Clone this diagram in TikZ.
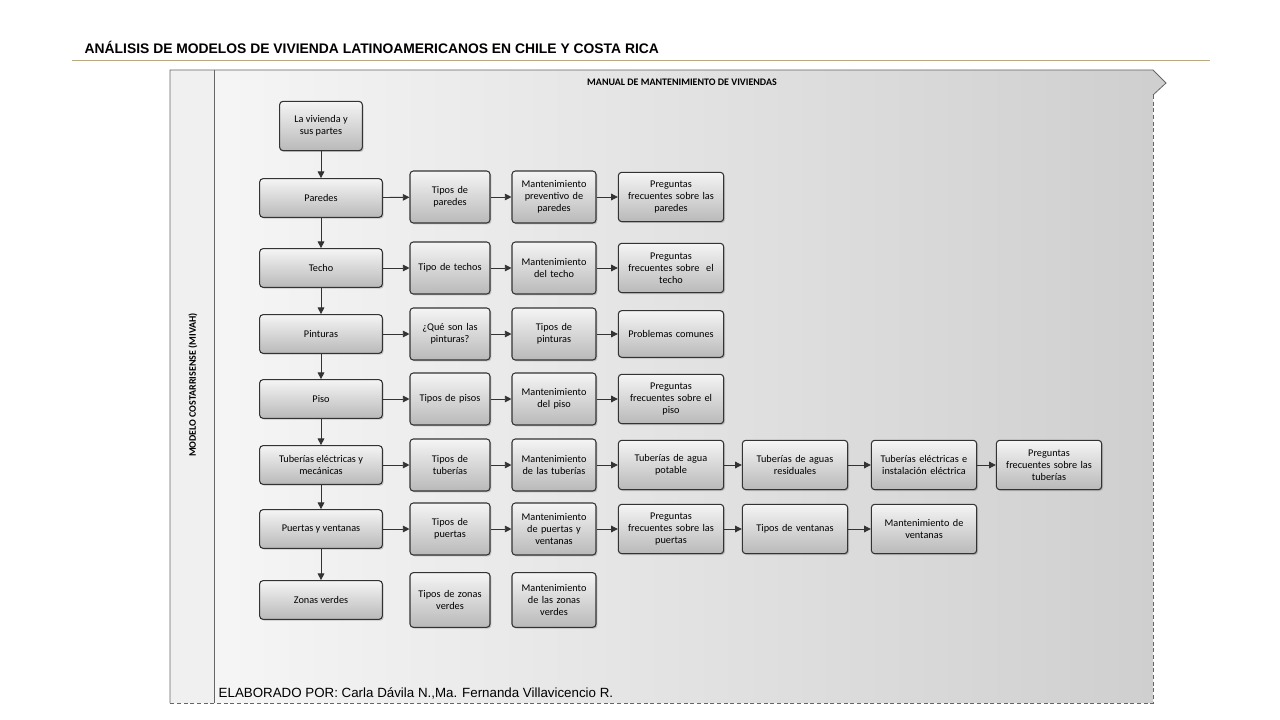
\documentclass[tikz,border=0pt]{standalone}
\usepackage{fontspec}
\setmainfont{Carlito}
\newfontfamily\arial{Liberation Sans}
\usetikzlibrary{shadows,arrows.meta}
\begin{document}
\begin{tikzpicture}[x=0.75pt,y=-0.75pt,
 bx/.style={draw=black!80,line width=0.8pt,rounded corners=2.5pt,top color=gray!8,bottom color=gray!55,
   drop shadow={shadow xshift=1pt,shadow yshift=-1pt,opacity=0.4},align=center,font=\fontsize{7.7}{9}\selectfont,inner sep=1pt},
 ar/.style={-{Triangle[length=5pt,width=5pt]},line width=0.7pt,black!80}]
\useasboundingbox (0,0) rectangle (1280,720);
\fill[white] (0,0) rectangle (1280,720);
% header
\node[anchor=west,font=\arial\bfseries\fontsize{10.4}{12}\selectfont] (title) at (80,47) {ANÁLISIS DE MODELOS DE VIVIENDA LATINOAMERICANOS EN CHILE Y COSTA RICA};
\draw[color={rgb,255:red,200;green,170;blue,90},line width=0.6pt] (72,60) -- (1210,60);
% frame
\shade[left color=gray!6,right color=gray!38] (170,70) -- (1153,70) -- (1166,83) -- (1153,95) -- (1153,703) -- (170,703) -- cycle;
\fill[gray!12] (170,70) rectangle (214,703);
\draw[black!60,line width=0.6pt] (170,703) -- (170,70) -- (1153,70) -- (1166,83) -- (1153,95);
\draw[black!60,line width=0.6pt,densely dashed] (1153,95) -- (1153,703) -- (170,703);
\draw[black!60,line width=0.6pt] (214,70) -- (214,703);
\node[rotate=90,font=\bfseries\fontsize{7.5}{8}\selectfont] (side) at (193,385) {MODELO COSTARRISENSE (MIVAH)};
\node[font=\bfseries\fontsize{7.5}{8}\selectfont] (man) at (682,82) {MANUAL DE MANTENIMIENTO DE VIVIENDAS};
\node[anchor=west,font=\arial\fontsize{10}{11}\selectfont] (foot) at (214,693) {ELABORADO POR: Carla Dávila N.,Ma. Fernanda Villavicencio R.};
% column 1
\node[bx,minimum width=62pt,minimum height=37pt] (a0) at (321,126) {La vivienda y\\sus partes};
\foreach \n/\y/\t in {a1/198/Paredes,a2/268/Techo,a3/334/Pinturas,a4/399/Piso,a5/465/{Tuberías eléctricas y\\mecánicas},a6/529/Puertas y ventanas,a7/600/Zonas verdes}
  \node[bx,minimum width=92pt,minimum height=29pt] (\n) at (321,\y) {\t};
\foreach \p/\q in {a0/a1,a1/a2,a2/a3,a3/a4,a4/a5,a5/a6,a6/a7} \draw[ar] (\p) -- (\q);
% other columns
\tikzset{c2/.style={bx,minimum width=60pt,minimum height=39pt,text width=58pt},
 c3/.style={bx,minimum width=63pt,minimum height=39pt,text width=61pt},
 c4/.style={bx,minimum width=79pt,minimum height=37pt,text width=77pt}}
\node[c2] (b1) at (450,197) {Tipos de\\paredes};
\node[c3] (c1) at (554,197) {Mantenimiento\\preventivo de\\paredes};
\node[c4] (d1) at (671,197) {Preguntas\\frecuentes sobre las\\paredes};
\node[c2] (b2) at (450,268) {Tipo de techos};
\node[c3] (c2n) at (554,268) {Mantenimiento\\del techo};
\node[c4] (d2) at (671,268) {Preguntas\\frecuentes sobre~ el\\techo};
\node[c2] (b3) at (450,334) {¿Qué son las\\pinturas?};
\node[c3] (c3n) at (554,334) {Tipos de\\pinturas};
\node[c4,minimum height=35pt] (d3) at (671,334) {Problemas comunes};
\node[c2] (b4) at (450,399) {Tipos de pisos};
\node[c3] (c4n) at (554,399) {Mantenimiento\\del piso};
\node[c4] (d4) at (671,399) {Preguntas\\frecuentes sobre el\\piso};
\node[c2] (b5) at (450,465) {Tipos de\\tuberías};
\node[c3] (c5) at (554,465) {Mantenimiento\\de las tuberías};
\node[c4] (d5) at (671,465) {Tuberías de agua\\potable};
\node[c4] (e5) at (795,465) {Tuberías de aguas\\residuales};
\node[c4] (f5) at (924,465) {Tuberías eléctricas e\\instalación eléctrica};
\node[c4] (g5) at (1049,465) {Preguntas\\frecuentes sobre las\\tuberías};
\node[c2] (b6) at (450,529) {Tipos de\\puertas};
\node[c3] (c6) at (554,529) {Mantenimiento\\de puertas y\\ventanas};
\node[c4] (d6) at (671,529) {Preguntas\\frecuentes sobre las\\puertas};
\node[c4] (e6) at (795,529) {Tipos de ventanas};
\node[c4] (f6) at (924,529) {Mantenimiento de\\ventanas};
\node[c2,minimum height=41pt] (b7) at (450,600) {Tipos de zonas\\verdes};
\node[c3,minimum height=41pt] (c7) at (554,600) {Mantenimiento\\de las zonas\\verdes};
\foreach \p/\q in {a1/b1,b1/c1,c1/d1,a2/b2,b2/c2n,c2n/d2,a3/b3,b3/c3n,c3n/d3,a4/b4,b4/c4n,c4n/d4,a5/b5,b5/c5,c5/d5,d5/e5,e5/f5,f5/g5,a6/b6,b6/c6,c6/d6,d6/e6,e6/f6}
  \draw[ar] (\p) -- (\q);
\end{tikzpicture}
\end{document}
